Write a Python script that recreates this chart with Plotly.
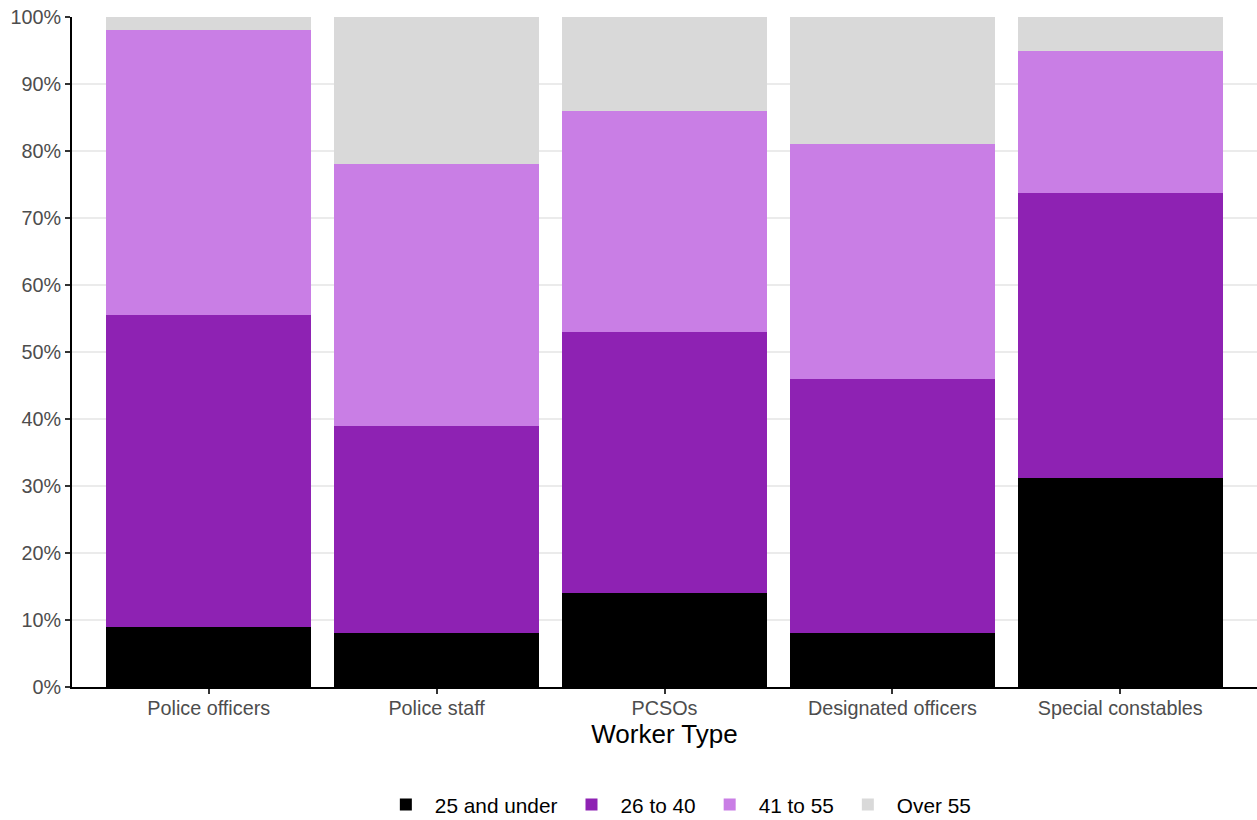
import plotly.graph_objects as go

categories = ["Police officers", "Police staff", "PCSOs", "Designated officers", "Special constables"]
age_groups = ["25 and under", "26 to 40", "41 to 55", "Over 55"]
under_25 = [8.9, 8.0, 14.0, 8.0, 31.2]
age_26_40 = [46.6, 31.0, 39.0, 38.0, 42.5]
age_41_55 = [42.6, 39.0, 33.0, 35.0, 21.3]
over_55 = [1.9, 22.0, 14.0, 19.0, 5.0]
colors = ["#000000", "#8E22B3", "#C97EE5", "#D9D9D9"]
y_ticks = list(range(0, 101, 10))
y_tick_labels = [f"{v}%" for v in y_ticks]

series = [under_25, age_26_40, age_41_55, over_55]

fig = go.Figure()
for name, vals, col in zip(age_groups, series, colors):
    fig.add_trace(go.Bar(
        x=categories, y=vals, name=name,
        marker=dict(color=col, line=dict(width=0)),
        hoverinfo="x+y+name",
    ))

fig.update_layout(
    barmode="stack",
    bargap=0.1,
    width=1257, height=820,
    margin=dict(l=72, r=0, t=17, b=133, autoexpand=False),
    plot_bgcolor="white", paper_bgcolor="white",
    font=dict(family="Liberation Sans, Arial, sans-serif", size=19.8, color="#4D4D4D"),
    legend=dict(
        orientation="h", x=0.51, xanchor="center", y=-0.176, yanchor="middle",
        font=dict(size=20.8, color="#000000"), traceorder="normal",
        itemsizing="constant", itemwidth=48,
    ),
    xaxis=dict(
        range=[-0.6, 4.6],
        title=dict(text="Worker Type", font=dict(size=26, color="#000000"), standoff=3),
        showline=True, linecolor="#000000", linewidth=2,
        ticks="outside", tickcolor="#333333", ticklen=5, tickwidth=1.5,
        ticklabelstandoff=-3,
        showgrid=False, tickfont=dict(size=19.8, color="#4D4D4D"),
    ),
    yaxis=dict(
        range=[0, 100],
        tickvals=y_ticks, ticktext=y_tick_labels,
        showline=True, linecolor="#000000", linewidth=2,
        ticks="outside", tickcolor="#333333", ticklen=5, tickwidth=1.5,
        showgrid=True, gridcolor="#EBEBEB", gridwidth=1.5,
        zeroline=False, tickfont=dict(size=19.8, color="#4D4D4D"),
    ),
)

fig.write_html(
    "out.html",
    config={"displayModeBar": False},
    post_script="document.body.style.margin='0';document.body.style.overflow='hidden';",
)
